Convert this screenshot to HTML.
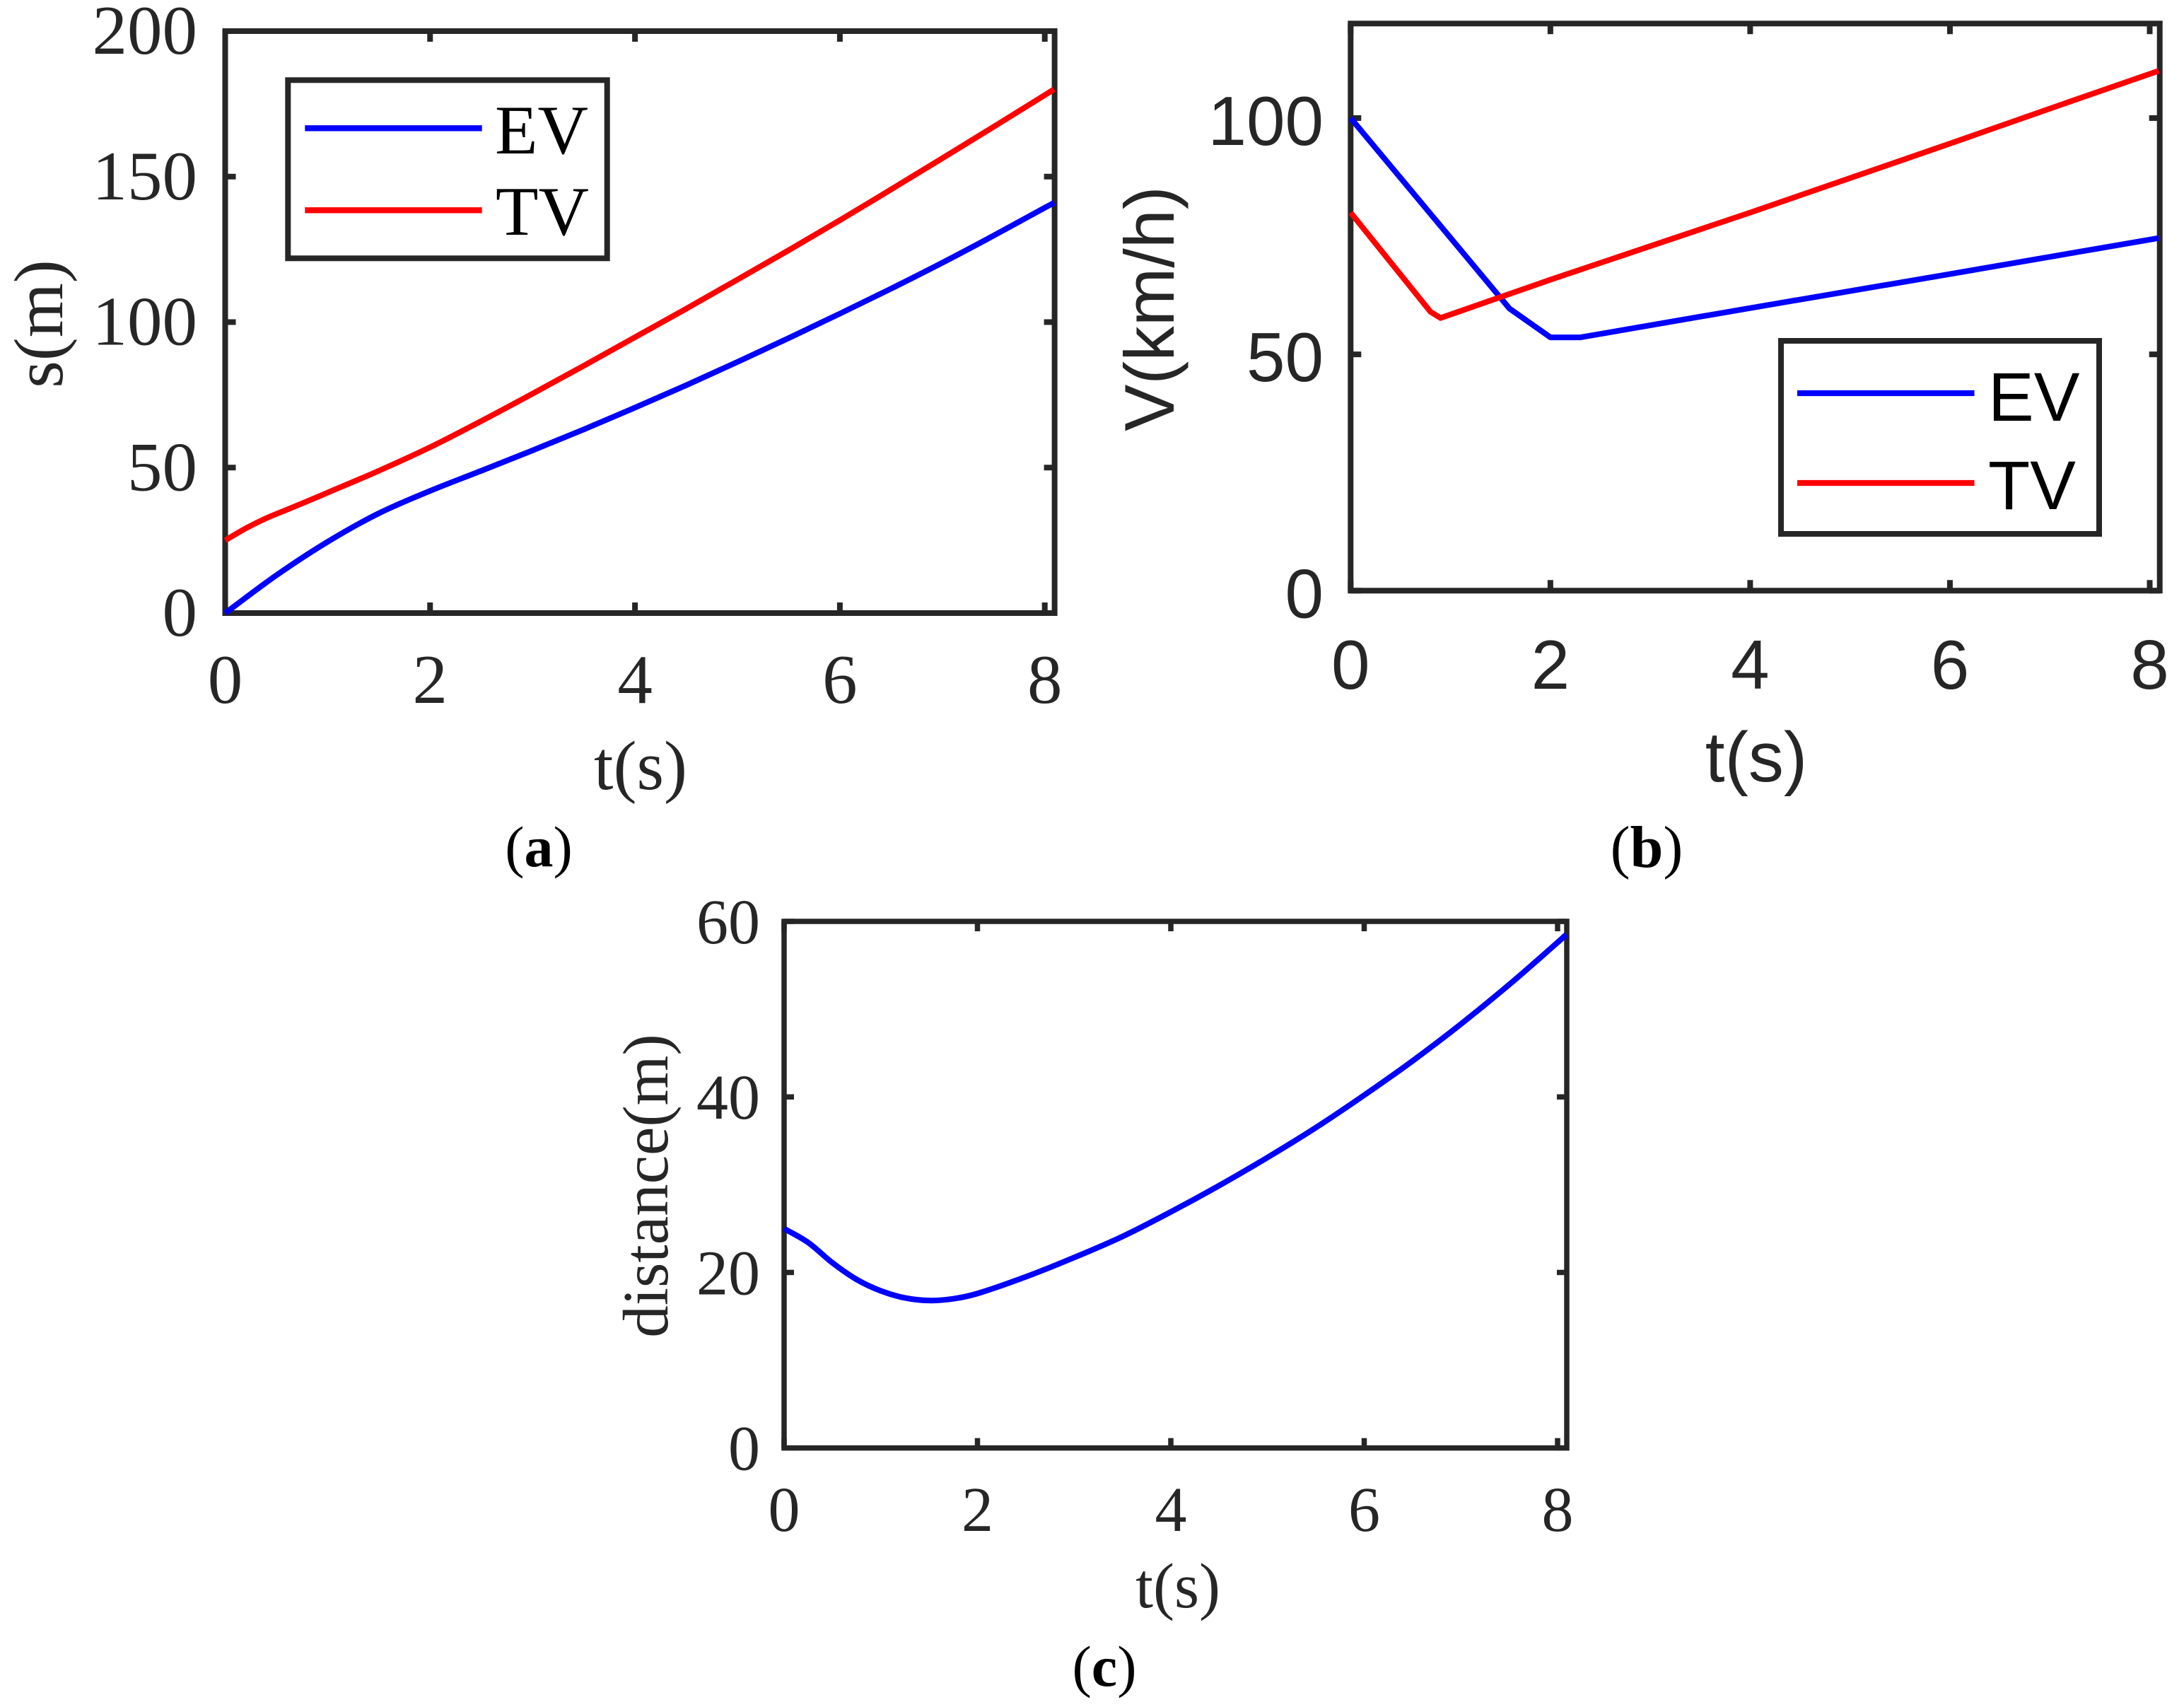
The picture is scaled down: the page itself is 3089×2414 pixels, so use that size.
<!DOCTYPE html>
<html lang="en">
<head>
<meta charset="utf-8">
<title>EV and TV position, speed and distance</title>
<style>
html,body{margin:0;padding:0;background:#fff;width:3089px;height:2414px;overflow:hidden}
svg{display:block}
.serif{font-family:"Liberation Serif",serif}
.sans{font-family:"Liberation Sans",sans-serif}
.dark{fill:#262626}
.frame{fill:none;stroke:#262626}
.legend-box{fill:#fff;stroke:#262626;stroke-width:8}
</style>
</head>
<body>
<svg id="figure" xmlns="http://www.w3.org/2000/svg" width="3089" height="2414" viewBox="0 0 3089 2414">
  <rect width="3089" height="2414" fill="#fff"/>

  <g id="panel-a"></g>
  <g>
    <text class="serif dark" font-size="99" x="906" y="1116" text-anchor="middle">t(s)</text>
    <text class="serif dark" font-size="99" text-anchor="middle" transform="translate(88 458) rotate(-90)">s(m)</text>
    <text class="serif" fill="#000" font-size="82" x="762" y="1225" text-anchor="middle">(<tspan font-weight="bold">a</tspan>)</text>
    <g>
      <rect class="legend-box" x="407.3" y="113.3" width="451.4" height="252"/>
      <line x1="431.3" x2="681.7" y1="181.3" y2="181.3" stroke="#0000ff" stroke-width="8.3"/>
      <line x1="431.3" x2="681.7" y1="297.3" y2="297.3" stroke="#ff0000" stroke-width="8.3"/>
      <text class="serif" fill="#000" font-size="99" x="700" y="217">EV</text>
      <text class="serif" fill="#000" font-size="99" x="701" y="332">TV</text>
    </g>
  </g>

  <g id="panel-b"></g>
  <g>
    <text class="sans dark" font-size="100" x="2484" y="1105" text-anchor="middle">t(s)</text>
    <text class="sans dark" font-size="99" text-anchor="middle" transform="translate(1660 436.5) rotate(-90)">V(km/h)</text>
    <text class="serif" fill="#000" font-size="84" x="2329" y="1226" text-anchor="middle">(<tspan font-weight="bold">b</tspan>)</text>
    <g>
      <rect class="legend-box" x="2519" y="482" width="450" height="273"/>
      <line x1="2542" x2="2792.5" y1="556" y2="556" stroke="#0000ff" stroke-width="8.3"/>
      <line x1="2542" x2="2792.5" y1="683" y2="683" stroke="#ff0000" stroke-width="8.3"/>
      <text class="sans" fill="#000" font-size="97" x="2812" y="595">EV</text>
      <text class="sans" fill="#000" font-size="97" x="2812" y="720">TV</text>
    </g>
  </g>

  <g id="panel-c"></g>
  <g>
    <text class="serif dark" font-size="90" x="1666" y="2273" text-anchor="middle">t(s)</text>
    <text class="serif dark" font-size="91" text-anchor="middle" transform="translate(944 1677) rotate(-90)">distance(m)</text>
    <text class="serif" fill="#000" font-size="82" x="1562" y="2384" text-anchor="middle">(<tspan font-weight="bold">c</tspan>)</text>
  </g>
</svg>

<script>
// Shared x axis
const xTicks = [0, 2, 4, 6, 8];

// Panel (a): position
const aYTicks = [0, 50, 100, 150, 200];
const aTimeEv = [0, 0.5, 1, 1.5, 2, 2.5, 3, 3.5, 4, 4.5, 5, 5.5, 6, 6.5, 7, 7.5, 8, 8.09];
const aPositionEv = [0, 13, 24.5, 34.3, 42, 48.9, 55.9, 63.1, 70.6, 78.3, 86.3, 94.5, 102.9, 111.5, 120.4, 129.7, 139.3, 141];
const aTimeTv = [0, 0.2, 0.4, 0.6, 0.8, 1, 1.5, 2, 2.5, 3, 3.5, 4, 4.5, 5, 5.5, 6, 6.5, 7, 7.5, 8, 8.09];
const aPositionTv = [25, 29.1, 32.6, 35.5, 38.4, 41.4, 48.9, 57, 66, 75.4, 85, 94.8, 104.6, 114.6, 124.7, 135, 145.6, 156.3, 167.1, 178, 180];

// Panel (b): speed
const bYTicks = [0, 50, 100];
const bTimeEv = [0, 1.59, 2, 2.3, 4, 6, 8.09];
const bSpeedEv = [100, 59.7, 53.6, 53.6, 59.8, 67, 74.6];
const bTimeTv = [0, 0.8, 0.9, 2, 4, 6, 7, 8.09];
const bSpeedTv = [80, 59, 57.7, 65.8, 80, 94.6, 102, 110];

// Panel (c): distance
const cYTicks = [0, 20, 40, 60];
const cTime = [0, 0.25, 0.5, 0.75, 1, 1.25, 1.5, 1.75, 2, 2.5, 3, 3.5, 4, 4.5, 5, 5.5, 6, 6.5, 7, 7.5, 8, 8.09];
const cDistance = [25, 23.4, 21.1, 19.2, 17.9, 17.1, 16.8, 17, 17.6, 19.5, 21.7, 24.1, 26.9, 29.9, 33.1, 36.5, 40.2, 44.1, 48.3, 52.8, 57.6, 58.5];

const SVGNS = 'http://www.w3.org/2000/svg';

function make(tag, attrs, parent) {
  const el = document.createElementNS(SVGNS, tag);
  for (const k in attrs) el.setAttribute(k, attrs[k]);
  parent.appendChild(el);
  return el;
}

function slopeAt(p, i) {
  const a = p[Math.max(i - 1, 0)], b = p[Math.min(i + 1, p.length - 1)];
  return (b[1] - a[1]) / (b[0] - a[0]);
}

function linePath(xs, ys, x, y, smooth) {
  const p = xs.map((v, i) => [x(v), y(ys[i])]);
  let d = 'M' + p[0][0] + ' ' + p[0][1];
  for (let i = 1; i < p.length; i++) {
    if (!smooth) { d += 'L' + p[i][0] + ' ' + p[i][1]; continue; }
    const h = (p[i][0] - p[i - 1][0]) / 3;
    d += 'C' + (p[i - 1][0] + h) + ' ' + (p[i - 1][1] + slopeAt(p, i - 1) * h) + ' ' +
         (p[i][0] - h) + ' ' + (p[i][1] - slopeAt(p, i) * h) + ' ' + p[i][0] + ' ' + p[i][1];
  }
  return d;
}

function drawAxes(g, o, yTicks) {
  const x = t => o.left + (t * (o.x8 - o.left)) / 8;
  const y = v => o.bottom - (v * (o.bottom - o.top)) / o.yMax;

  xTicks.forEach(t => {
    const top = make('line', { x1: x(t), x2: x(t), y1: o.top, y2: o.top + o.tick, stroke: '#262626', 'stroke-width': o.sw }, g);
    
    
    const bot = make('line', { x1: x(t), x2: x(t), y1: o.bottom, y2: o.bottom - o.tick, stroke: '#262626', 'stroke-width': o.sw }, g);
    
    
    const label = make('text', { x: x(t), y: o.xLabelY, 'text-anchor': 'middle', 'font-size': o.fs, class: o.font + ' dark' }, g);
    label.textContent = String(t);
    
    
  });

  yTicks.forEach(v => {
    const l = make('line', { x1: o.left, x2: o.left + o.tick, y1: y(v), y2: y(v), stroke: '#262626', 'stroke-width': o.sw }, g);
    
    
    const r = make('line', { x1: o.right, x2: o.right - o.tick, y1: y(v), y2: y(v), stroke: '#262626', 'stroke-width': o.sw }, g);
    
    
    const label = make('text', { x: o.yLabelX, y: y(v) + o.yLabelDy, 'text-anchor': 'end', 'font-size': o.fs, class: o.font + ' dark' }, g);
    label.textContent = String(v);
    
    
  });

  const frame = make('rect', { x: o.left, y: o.top, width: o.right - o.left, height: o.bottom - o.top, class: 'frame', 'stroke-width': o.sw }, g);
  
  

  return { x, y };
}

function drawLine(g, d, color, width) {
  const path = make('path', { d: d, fill: 'none', stroke: color, 'stroke-width': width, 'stroke-linejoin': 'round' }, g);
  return path;
}

// Panel (a)
const gA = document.getElementById('panel-a');
const sA = drawAxes(gA, { left: 318.5, right: 1491.6, x8: 1477.7, top: 44, bottom: 867, yMax: 200, tick: 15, sw: 8,
  fs: 99, font: 'serif', xLabelY: 994, yLabelX: 279, yLabelDy: 32 }, aYTicks);
const aEvLine = drawLine(gA, linePath(aTimeEv, aPositionEv, sA.x, sA.y, true), '#0000ff', 8);


const aTvLine = drawLine(gA, linePath(aTimeTv, aPositionTv, sA.x, sA.y, true), '#ff0000', 8);



// Panel (b)
const gB = document.getElementById('panel-b');
const sB = drawAxes(gB, { left: 1910.3, right: 3054.7, x8: 3040.5, top: 33.3, bottom: 835.3, yMax: 120, tick: 15, sw: 8,
  fs: 98, font: 'sans', xLabelY: 974, yLabelX: 1872, yLabelDy: 38 }, bYTicks);
const bEvLine = drawLine(gB, linePath(bTimeEv, bSpeedEv, sB.x, sB.y, false), '#0000ff', 8);


const bTvLine = drawLine(gB, linePath(bTimeTv, bSpeedTv, sB.x, sB.y, false), '#ff0000', 8);



// Panel (c)
const gC = document.getElementById('panel-c');
const sC = drawAxes(gC, { left: 1109, right: 2216, x8: 2203, top: 1303, bottom: 2047.7, yMax: 60, tick: 14, sw: 7.5,
  fs: 90, font: 'serif', xLabelY: 2165, yLabelX: 1075, yLabelDy: 31 }, cYTicks);
const cLine = drawLine(gC, linePath(cTime, cDistance, sC.x, sC.y, true), '#0000ff', 8);


</script>
</body>
</html>
